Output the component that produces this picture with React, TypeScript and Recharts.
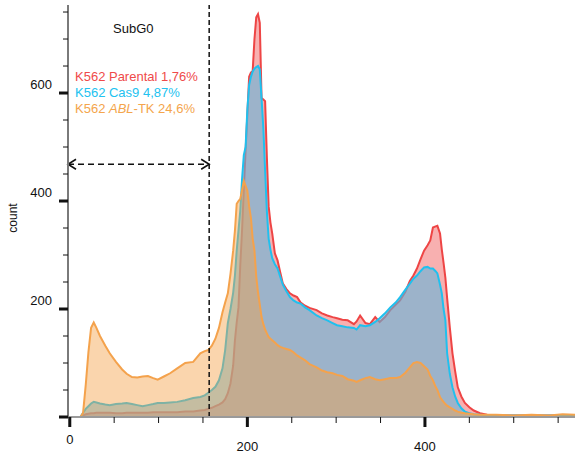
import React from 'react';
import { ComposedChart, Area, XAxis, YAxis, ReferenceLine } from 'recharts';

// channel positions (DNA content) and cell counts
const channel = [
  0, 8, 12, 15, 18, 21, 24, 27, 30, 34, 40, 45, 52, 59, 64, 70, 76, 82, 88, 94, 99, 106, 113, 121, 130, 139,
  147, 152, 156, 160, 164, 168, 172, 175, 178, 181, 184, 186, 188, 190, 192, 194, 196, 198, 200, 202, 204,
  206, 208, 210, 212, 214, 216, 218, 220, 222, 224, 226, 228, 231, 234, 237, 240, 244, 248, 252, 256, 260,
  265, 270, 278, 284, 290, 296, 301, 307, 313, 320, 323, 327, 333, 338, 344, 349, 355, 361, 367, 372, 378,
  383, 387, 391, 395, 399, 403, 406, 409, 412, 414, 417, 419, 421, 423, 425, 428, 431, 434, 437, 441, 445,
  450, 455, 462, 470, 480, 500, 520, 540, 555, 569,
];

const parental = [
  0, 0, 0, 3, 5, 6, 7, 7, 8, 8, 8, 8, 7, 7, 8, 8, 8, 8, 8, 9, 9, 9, 9, 9, 10, 10,
  12, 13, 15, 17, 20, 23, 27, 33, 44, 62, 95, 142, 175, 203, 280, 345, 420, 493, 560, 630, 638,
  641, 700, 740, 746, 730, 591, 588, 585, 480, 390, 360, 340, 303, 290, 268, 247, 237, 229, 225, 222, 212,
  206, 202, 198, 192, 188, 185, 183, 180, 179, 172, 177, 188, 174, 172, 185, 176, 185, 198, 208, 216, 232,
  252, 262, 275, 292, 308, 318, 327, 351, 353, 354, 340, 310, 285, 258, 220, 166, 118, 85, 55, 38, 26,
  18, 12, 7, 4, 3, 3, 3, 3, 3, 3,
];

const cas9 = [
  0, 0, 0, 8, 15, 20, 25, 28, 27, 25, 23, 22, 24, 25, 26, 24, 22, 20, 22, 24, 26, 26, 27, 28, 31, 35,
  37, 40, 45, 50, 56, 68, 90, 124, 174, 200, 230, 262, 308, 345, 382, 440, 485, 500, 570, 615, 630,
  640, 645, 648, 650, 644, 590, 535, 456, 380, 330, 310, 294, 283, 275, 260, 245, 233, 222, 216, 212, 210,
  203, 198, 188, 183, 179, 174, 170, 168, 166, 165, 162, 170, 168, 170, 176, 183, 192, 203, 212, 222, 236,
  247, 256, 262, 270, 277, 278, 275, 275, 270, 266, 245, 229, 200, 179, 118, 80, 55, 38, 26, 16, 10,
  7, 5, 4, 3, 3, 3, 3, 3, 3, 3,
];

const ablTk = [
  0, 0, 0, 8, 60, 120, 165, 175, 165, 150, 132, 118, 102, 88, 80, 74, 73, 75, 76, 72, 69, 75, 81, 90, 100, 102,
  118, 122, 124, 132, 145, 165, 194, 212, 229, 265, 308, 345, 395, 400, 404, 420, 437, 428, 419, 390, 369,
  330, 308, 260, 231, 208, 185, 172, 162, 155, 148, 145, 142, 138, 133, 130, 128, 126, 124, 120, 114, 110,
  105, 98, 92, 86, 83, 81, 78, 76, 70, 67, 65, 68, 72, 74, 70, 68, 70, 72, 72, 74, 82,
  92, 100, 102, 100, 94, 88, 76, 68, 56, 50, 37, 32, 28, 24, 21, 18, 15, 12, 10, 8, 7,
  6, 5, 4, 4, 4, 3, 4, 3, 5, 4,
];

const xTicks = [0, 50, 100, 150, 200, 250, 300, 350, 400, 450, 500, 550];
const yTicks = [0, 50, 100, 150, 200, 250, 300, 350, 400, 450, 500, 550, 600, 650, 700, 750];
const gateEdge = 157;
const arrowLevel = 468;

const data = channel.map((c, i) => ({ c, parental: parental[i], cas9: cas9[i], ablTk: ablTk[i] }));

const FONT = '"Liberation Sans", Arial, sans-serif';

const XTick = (props: any) => {
  const { x, y, payload } = props;
  const major = payload.value % 200 === 0;
  return (
    <g>
      {major ? (
        <rect x={x - 1.5} y={y} width={3} height={10} fill="#111" />
      ) : (
        <line x1={x} y1={y} x2={x} y2={y + 6} stroke="#111" strokeWidth={1} />
      )}
      {major && (
        <text x={x} y={payload.value === 0 ? y + 24 : y + 31} textAnchor="middle" dominantBaseline="middle"
          fontSize={13} fontFamily={FONT} fill="#111">
          {payload.value}
        </text>
      )}
    </g>
  );
};

const YTick = (props: any) => {
  const { x, y, payload } = props;
  const major = payload.value % 200 === 0;
  return (
    <g>
      {major ? (
        <rect x={x - 9} y={y - 1.5} width={9} height={3} fill="#111" />
      ) : (
        <line x1={x - 5} y1={y} x2={x} y2={y} stroke="#111" strokeWidth={1} />
      )}
      {major && payload.value > 0 && (
        <text x={x - 16} y={y - 7} textAnchor="end" dominantBaseline="middle"
          fontSize={13} fontFamily={FONT} fill="#111">
          {payload.value}
        </text>
      )}
    </g>
  );
};

// dashed double arrow spanning the SubG0 gate
const DoubleArrow = (props: any) => {
  const { x1, y1, x2, y2 } = props;
  const a = 8;
  return (
    <g>
      <line x1={x1} y1={y1} x2={x2} y2={y2} stroke="#111" strokeWidth={1.5} strokeDasharray="6 4" />
      <polyline points={`${x1 + a},${y1 - a / 2 - 1} ${x1},${y1} ${x1 + a},${y1 + a / 2 + 1}`}
        fill="none" stroke="#111" strokeWidth={1.6} />
      <polyline points={`${x2 - a},${y2 - a / 2 - 1} ${x2},${y2} ${x2 - a},${y2 + a / 2 + 1}`}
        fill="none" stroke="#111" strokeWidth={1.6} />
    </g>
  );
};

export default function App() {
  return (
    <div style={{ position: 'absolute', left: 0, top: 0, width: 575, height: 453, background: '#fff' }}>
      <ComposedChart width={575} height={453} data={data} margin={{ top: 5, right: 0, bottom: 6, left: 0 }}>
        <XAxis
          dataKey="c"
          type="number"
          domain={[-2, 569]}
          ticks={xTicks}
          tick={<XTick />}
          tickLine={false}
          tickSize={0}
          tickMargin={0}
          height={30}
          axisLine={{ stroke: '#9a9a9a', strokeWidth: 2 }}
          allowDataOverflow
          interval={0}
        />
        <YAxis
          type="number"
          domain={[0, 763]}
          ticks={yTicks}
          tick={<YTick />}
          tickLine={false}
          tickSize={0}
          tickMargin={0}
          width={68}
          axisLine={{ stroke: '#7a7a7a', strokeWidth: 2 }}
          allowDataOverflow
          interval={0}
        />
        <Area type="linear" dataKey="parental" stroke="#ee4545" strokeWidth={2} fill="#f05050" fillOpacity={0.45}
          dot={false} activeDot={false} isAnimationActive={false} />
        <Area type="linear" dataKey="cas9" stroke="#20c0ee" strokeWidth={2} fill="#5fb5dc" fillOpacity={0.6}
          dot={false} activeDot={false} isAnimationActive={false} />
        <Area type="linear" dataKey="ablTk" stroke="#f4a24c" strokeWidth={2} fill="#f5a14a" fillOpacity={0.45}
          dot={false} activeDot={false} isAnimationActive={false} />
        <ReferenceLine x={gateEdge} stroke="#111" strokeWidth={1.5} strokeDasharray="5 3" />
        <ReferenceLine
          segment={[{ x: -2, y: arrowLevel }, { x: gateEdge, y: arrowLevel }]}
          shape={(p: any) => <DoubleArrow {...p} />}
        />
      </ComposedChart>
      <svg width={575} height={453} style={{ position: 'absolute', left: 0, top: 0, pointerEvents: 'none' }}>
        <g fontFamily={FONT} fontSize={13}>
          <text x={113} y={30} dominantBaseline="middle" fill="#111">SubG0</text>
          <text x={75} y={78} dominantBaseline="middle" fill="#ef4a4a">K562 Parental 1,76%</text>
          <text x={75} y={94} dominantBaseline="middle" fill="#22c2f0">K562 Cas9 4,87%</text>
          <text x={75} y={110} dominantBaseline="middle" fill="#f4a54c">
            K562 <tspan fontStyle="italic">ABL</tspan>-TK 24,6%
          </text>
          <text x={14} y={218} transform="rotate(-90 14 218)" textAnchor="middle" dominantBaseline="middle"
            fontSize={12} fill="#111">count</text>
        </g>
      </svg>
    </div>
  );
}
